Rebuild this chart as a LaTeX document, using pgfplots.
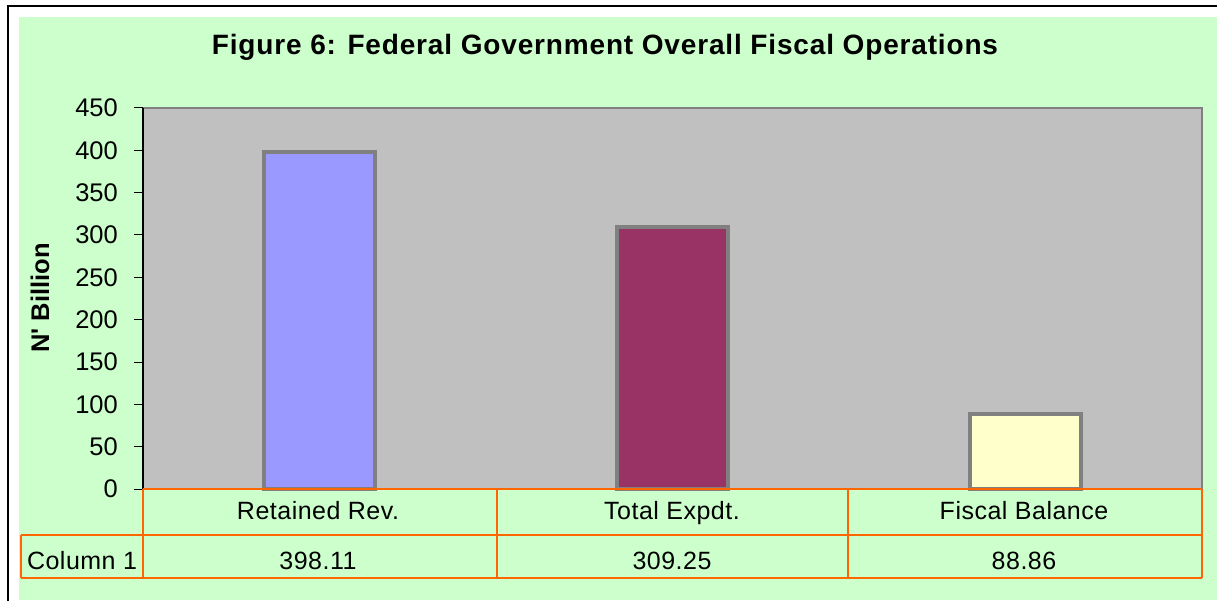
\documentclass[border=0pt]{standalone}
\usepackage{fontspec}
\setmainfont{Liberation Sans}
\usepackage{pgfplots}
\pgfplotsset{compat=1.18}

\definecolor{bggreen}{HTML}{CCFFCC}
\definecolor{plotgray}{HTML}{C0C0C0}
\definecolor{edgegray}{HTML}{808080}
\definecolor{revblue}{HTML}{9999FF}
\definecolor{expplum}{HTML}{993366}
\definecolor{balcream}{HTML}{FFFFCC}
\definecolor{tblorange}{HTML}{FF6600}

\begin{document}
\begin{tikzpicture}[x=1pt,y=1pt]
\useasboundingbox (0,0) rectangle (1217,600);
% page frame and chart area
\fill[bggreen] (19,0) rectangle (1217,583);
\draw[black,line width=1.5pt] (8,-5) -- (8,594) -- (1222,594);

\begin{axis}[
  at={(143pt,111pt)}, anchor=south west,
  scale only axis, width=1059pt, height=381pt,
  xmin=0, xmax=3, ymin=0, ymax=450,
  ytick={0,50,...,450}, xtick=\empty,
  ytick pos=left, tick align=outside, major tick length=9pt,
  tick style={black, line width=1pt},
  axis line style={draw=none},
  axis background/.style={fill=plotgray},
  yticklabel style={font=\fontsize{25.5}{30}\selectfont, inner sep=0pt, xshift=-16pt},
  /pgf/number format/assume math mode=true,
  ybar, bar width=0.315, bar shift=0pt,
  clip=false,
]
\addplot[fill=revblue, draw=edgegray, line width=4pt] coordinates {(0.5,398.11)};
\addplot[fill=expplum, draw=edgegray, line width=4pt] coordinates {(1.5,309.25)};
\addplot[fill=balcream, draw=edgegray, line width=4pt] coordinates {(2.5,88.86)};
\end{axis}

% axis outline
\draw[edgegray,line width=1.5pt] (143,492) -- (1202,492) -- (1202,111);
\draw[black,line width=1.5pt] (143,111) -- (143,492);

% data table
\begin{scope}[tblorange,line width=2pt]
  \draw (143,111) -- (1202,111);
  \draw (21,65) -- (1202,65);
  \draw (21,22) -- (1202,22);
  \draw (143,22) -- (143,111);
  \draw (497,22) -- (497,111);
  \draw (848,22) -- (848,111);
  \draw (1202,22) -- (1202,111);
  \draw (21,22) -- (21,65);
\end{scope}
\begin{scope}[font=\fontsize{25}{30}\selectfont\addfontfeature{LetterSpace=2}, anchor=base, inner sep=0pt]
  \node at (318,81) {Retained Rev.};
  \node at (672,81) {Total Expdt.};
  \node at (1024,81) {Fiscal Balance};
  \node at (82,31) {Column 1};
  \node at (318,31) {398.11};
  \node at (672,31) {309.25};
  \node at (1024,31) {88.86};
\end{scope}

\node[font=\fontsize{28}{32}\bfseries\addfontfeature{LetterSpace=3}, anchor=base, inner sep=0pt] at (605,545) {Figure 6: Federal Government Overall Fiscal Operations};
\node[font=\fontsize{25.5}{30}\bfseries, rotate=90] at (40,302) {N\textquotesingle{} Billion};
\end{tikzpicture}
\end{document}
